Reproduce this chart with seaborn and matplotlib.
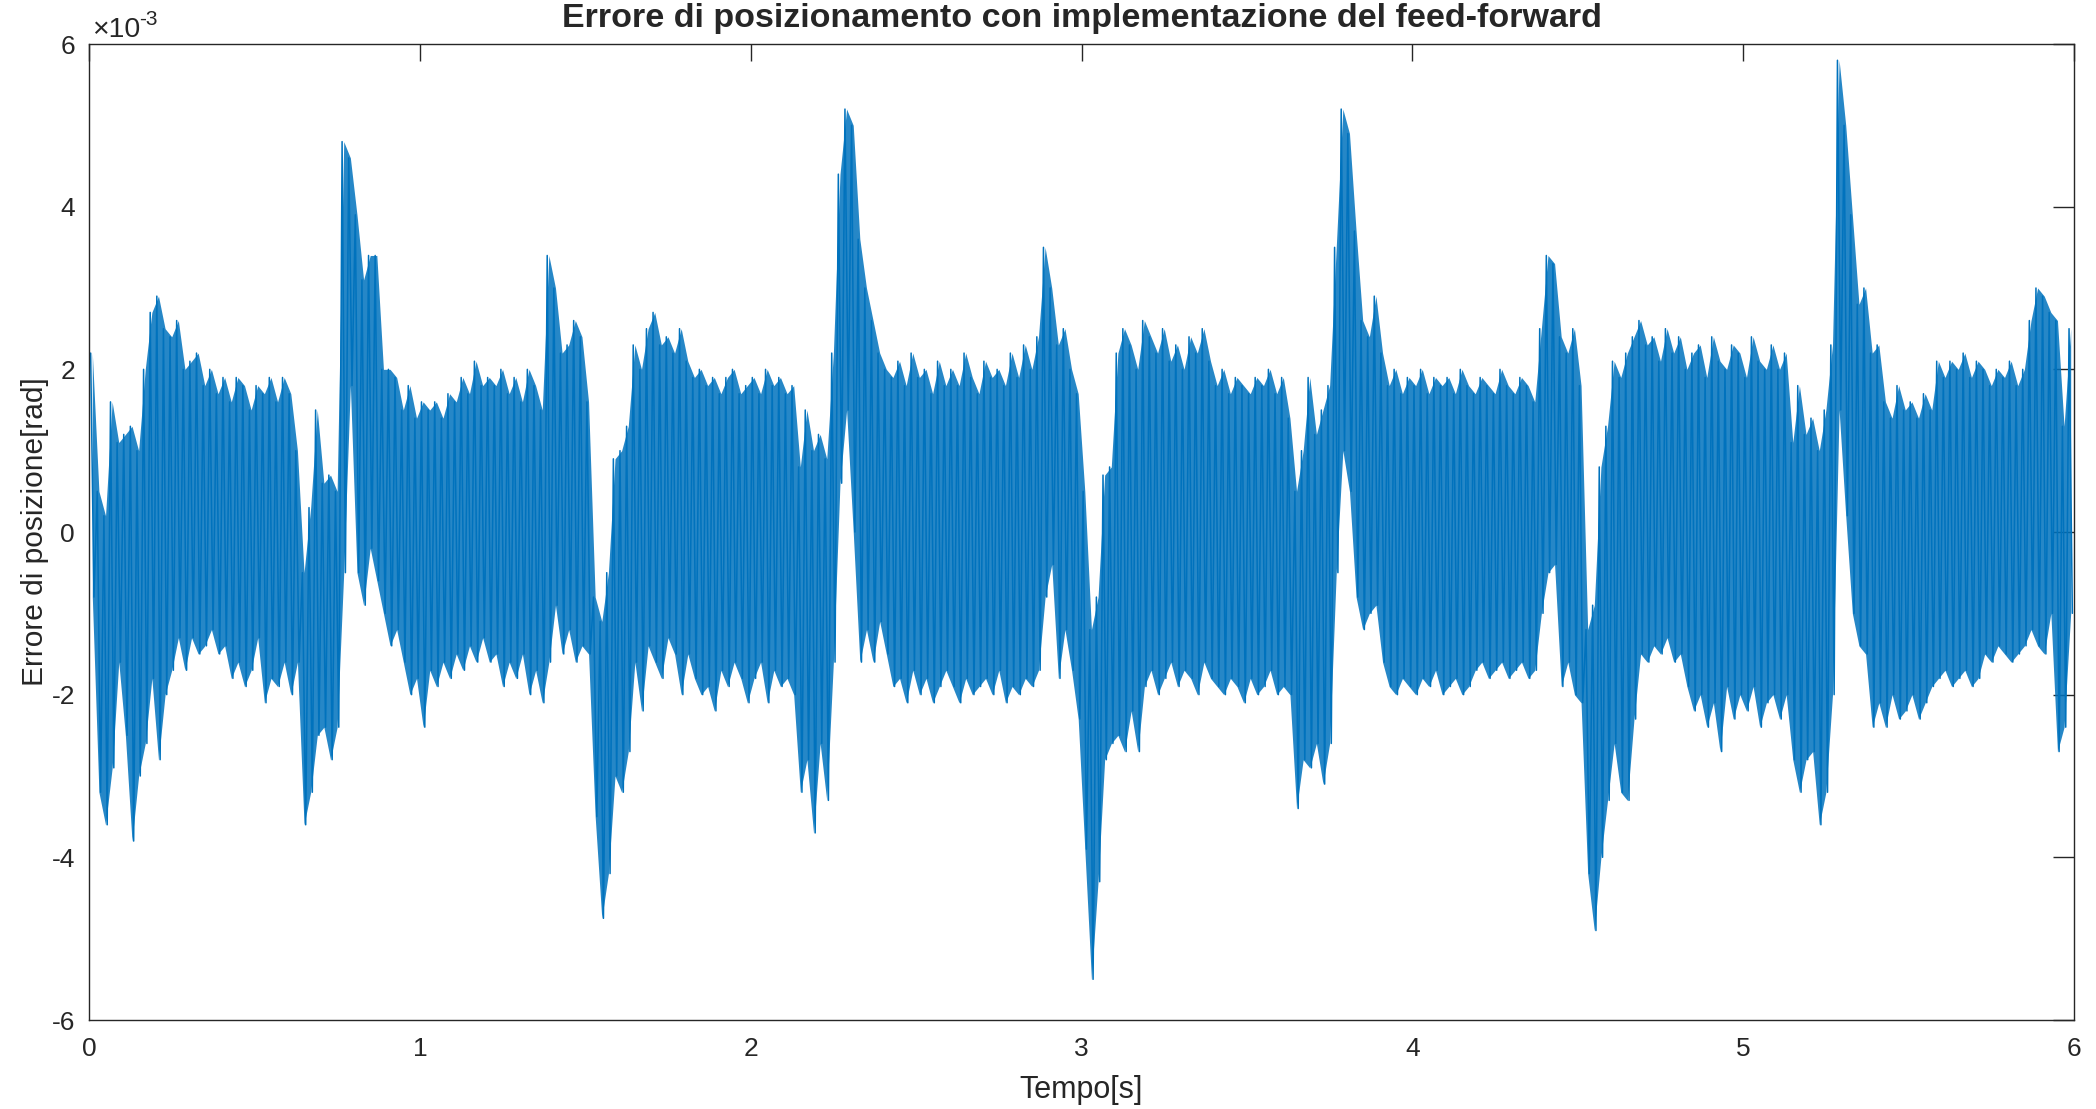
import numpy as np
import pandas as pd
import matplotlib.pyplot as plt
import seaborn as sns
from matplotlib.ticker import FuncFormatter, MultipleLocator

sns.set_style("white")
plt.rcParams.update({
    'font.family': ['Liberation Sans', 'DejaVu Sans'],
    'axes.unicode_minus': False,
})

# window length of the readings [s]
step = 0.02

# peak values, one per 0.02 s window (x 1e-3 rad)
# each row = 0.1 s
upper = [
    2.2, 0.5, 0.2, 1.6, 1.1,
    1.2, 1.3, 1.0, 2.0, 2.7,
    2.9, 2.5, 2.4, 2.6, 2.0,
    2.1, 2.2, 1.8, 2.0, 1.7,
    1.9, 1.6, 1.9, 1.8, 1.5,
    1.8, 1.7, 1.9, 1.6, 1.9,
    1.7, 1.0, -0.5, 0.3, 1.5,
    0.6, 0.7, 0.5, 4.8, 4.6,
    3.9, 3.1, 3.4, 3.4, 2.0,
    2.0, 1.9, 1.5, 1.8, 1.4,
    1.6, 1.5, 1.6, 1.4, 1.7,
    1.6, 1.9, 1.7, 2.1, 1.8,
    1.9, 1.8, 2.0, 1.7, 1.9,
    1.6, 2.0, 1.8, 1.5, 3.4,
    3.0, 2.2, 2.3, 2.6, 2.4,
    1.6, -0.8, -1.1, -0.5, 0.9,
    1.0, 1.3, 2.3, 2.0, 2.5,
    2.7, 2.3, 2.4, 2.2, 2.5,
    2.1, 1.9, 2.0, 1.8, 1.9,
    1.7, 1.9, 2.0, 1.7, 1.8,
    1.9, 1.7, 2.0, 1.8, 1.9,
    1.7, 1.8, 0.8, 1.5, 1.0,
    1.2, 0.9, 2.2, 4.4, 5.2,
    5.0, 3.6, 3.0, 2.6, 2.2,
    2.0, 1.9, 2.1, 1.8, 2.2,
    1.9, 2.0, 1.7, 2.1, 1.8,
    2.0, 1.8, 2.2, 1.9, 1.7,
    2.1, 1.9, 2.0, 1.8, 2.2,
    1.9, 2.3, 2.0, 2.4, 3.5,
    3.0, 2.3, 2.5, 2.0, 1.7,
    0.5, -1.2, -0.8, 0.7, 0.8,
    2.2, 2.5, 2.3, 2.0, 2.6,
    2.4, 2.2, 2.5, 2.1, 2.3,
    2.0, 2.4, 2.2, 2.5, 2.1,
    1.8, 2.0, 1.7, 1.9, 1.8,
    1.7, 1.9, 1.8, 2.0, 1.7,
    1.9, 1.4, 0.5, 1.0, 1.9,
    1.2, 1.5, 1.8, 3.5, 5.2,
    4.9, 3.7, 2.6, 2.4, 2.9,
    2.2, 1.8, 2.0, 1.7, 1.9,
    1.8, 2.0, 1.7, 1.9, 1.8,
    1.9, 1.7, 2.0, 1.8, 1.7,
    1.9, 1.8, 1.7, 2.0, 1.8,
    1.7, 1.9, 1.8, 1.6, 2.5,
    3.4, 3.3, 2.4, 2.2, 2.5,
    1.8, -1.2, -0.9, 0.8, 1.3,
    2.1, 1.9, 2.2, 2.4, 2.6,
    2.3, 2.4, 2.1, 2.5, 2.2,
    2.4, 2.0, 2.2, 2.3, 1.9,
    2.4, 2.1, 2.0, 2.3, 2.2,
    1.9, 2.4, 2.1, 2.0, 2.3,
    2.0, 2.2, 1.1, 1.8, 1.2,
    1.4, 1.0, 1.5, 2.3, 5.8,
    5.0, 3.9, 2.8, 3.0, 2.2,
    2.3, 1.6, 1.4, 1.8, 1.5,
    1.6, 1.4, 1.7, 1.5, 2.1,
    1.9, 2.1, 2.0, 2.2, 1.9,
    2.1, 2.0, 1.8, 2.0, 1.9,
    2.1, 1.8, 2.0, 2.6, 3.0,
    2.9, 2.7, 2.6, 1.3, 2.5,
]

lower = [
    -0.8, -3.2, -3.6, -2.9, -1.6,
    -2.5, -3.8, -3.0, -2.6, -1.8,
    -2.8, -2.0, -1.7, -1.3, -1.7,
    -1.3, -1.5, -1.4, -1.2, -1.5,
    -1.4, -1.8, -1.6, -1.9, -1.7,
    -1.3, -2.1, -1.8, -1.9, -1.6,
    -2.0, -1.6, -3.6, -3.2, -2.5,
    -2.4, -2.8, -2.4, -0.5, 1.8,
    -0.5, -0.9, -0.2, -0.6, -1.0,
    -1.4, -1.2, -1.6, -2.0, -1.8,
    -2.4, -1.7, -1.9, -1.6, -1.8,
    -1.5, -1.7, -1.4, -1.6, -1.3,
    -1.6, -1.5, -1.9, -1.6, -1.8,
    -1.5, -2.0, -1.7, -2.1, -1.6,
    -0.9, -1.5, -1.2, -1.6, -1.4,
    -1.5, -3.5, -4.75, -4.2, -3.0,
    -3.2, -2.7, -1.6, -2.2, -1.4,
    -1.6, -1.8, -1.3, -1.5, -2.0,
    -1.5, -1.8, -2.0, -1.9, -2.2,
    -1.7, -1.9, -1.6, -1.8, -2.1,
    -1.8, -1.6, -2.1, -1.7, -1.9,
    -1.8, -2.0, -3.2, -2.8, -3.7,
    -2.6, -3.3, -1.6, 0.6, 1.5,
    0.0, -1.6, -1.2, -1.6, -1.1,
    -1.5, -1.9, -1.8, -2.1, -1.7,
    -2.0, -1.8, -2.1, -1.9, -1.7,
    -1.9, -2.1, -1.8, -2.0, -1.9,
    -1.8, -2.0, -1.7, -2.1, -1.9,
    -2.0, -1.8, -1.9, -1.7, -0.8,
    -0.4, -1.8, -1.2, -1.7, -2.3,
    -3.9, -5.5, -4.3, -2.8, -2.6,
    -2.5, -2.7, -2.2, -2.7, -1.9,
    -1.7, -2.0, -1.8, -1.6, -1.9,
    -1.7, -1.8, -2.0, -1.6, -1.8,
    -1.9, -2.0, -1.8, -1.9, -2.1,
    -1.8, -2.0, -1.9, -1.7, -2.0,
    -1.9, -2.0, -3.4, -2.8, -2.9,
    -2.6, -3.1, -2.6, -0.5, 1.0,
    0.5, -0.8, -1.2, -1.0, -0.9,
    -1.6, -1.9, -2.0, -1.8, -1.9,
    -2.0, -1.8, -1.9, -1.7, -2.0,
    -1.9, -1.8, -2.0, -1.9, -1.7,
    -1.6, -1.8, -1.7, -1.6, -1.8,
    -1.7, -1.6, -1.8, -1.7, -1.0,
    -0.5, -0.4, -1.9, -1.6, -2.0,
    -2.1, -4.2, -4.9, -4.0, -3.3,
    -2.6, -3.2, -3.3, -2.3, -1.5,
    -1.6, -1.4, -1.5, -1.3, -1.6,
    -1.5, -1.9, -2.2, -2.0, -2.4,
    -2.1, -2.7, -1.9, -2.3, -2.0,
    -2.2, -1.9, -2.4, -2.1, -2.0,
    -2.3, -2.0, -2.8, -3.2, -2.8,
    -2.7, -3.6, -3.2, -2.0, 1.5,
    0.2, -1.0, -1.4, -1.5, -2.4,
    -2.1, -2.4, -2.0, -2.3, -2.2,
    -2.0, -2.3, -2.1, -1.9, -1.8,
    -1.7, -1.9, -1.8, -1.7, -1.9,
    -1.8, -1.5, -1.6, -1.4, -1.5,
    -1.6, -1.5, -1.4, -1.2, -1.4,
    -1.5, -1.0, -2.7, -2.4, -1.0,
]

t_win = np.arange(len(upper)) * step
hi = np.array(upper) * 1e-3
lo = np.array(lower) * 1e-3

# trace: peak then trough in every window
df = pd.DataFrame({
    'Tempo': np.column_stack([t_win + 0.25 * step, t_win + 0.75 * step]).ravel(),
    'Errore': np.column_stack([hi, lo]).ravel(),
})

blue = '#0072BD'
fig = plt.figure(figsize=(20.96, 11.09), dpi=100)
ax = fig.add_axes([89 / 2096, 1 - 1020 / 1109, 1985 / 2096, 976 / 1109])

# the samples are too dense to separate: the band between peaks and troughs is solid
ax.fill_between(t_win + 0.5 * step, lo, hi, color=blue, alpha=0.85, linewidth=0)
sns.lineplot(data=df, x='Tempo', y='Errore', ax=ax, color=blue,
             linewidth=1.1, estimator=None, sort=False)

grey = '#262626'
ax.set_xlim(0, 6)
ax.set_ylim(-6e-3, 6e-3)
ax.xaxis.set_major_locator(MultipleLocator(1))
ax.yaxis.set_major_locator(MultipleLocator(2e-3))
ax.yaxis.set_major_formatter(FuncFormatter(lambda v, p: f"{round(v * 1e3):d}"))

# exponent label like MATLAB
ax.annotate('×10', xy=(0, 1), xycoords='axes fraction', xytext=(2, 5),
            textcoords='offset points', fontsize=20.5, color=grey, va='baseline')
ax.annotate('-3', xy=(0, 1), xycoords='axes fraction', xytext=(36, 14),
            textcoords='offset points', fontsize=15, color=grey, va='baseline')

for s in ax.spines.values():
    s.set_color(grey)
    s.set_linewidth(1.0)
ax.tick_params(axis='both', direction='in', top=True, right=True,
               labelsize=19, colors=grey, width=1.0)
ax.tick_params(axis='y', length=15, pad=10)
ax.tick_params(axis='x', length=12, pad=12)

ax.set_title('Errore di posizionamento con implementazione del feed-forward',
             fontsize=24.5, fontweight='bold', pad=12)
ax.set_xlabel('Tempo[s]', fontsize=22, color=grey, labelpad=10)
ax.set_ylabel('Errore di posizione[rad]', fontsize=21.5, color=grey, labelpad=2)

fig.savefig('out.png', dpi=100)
